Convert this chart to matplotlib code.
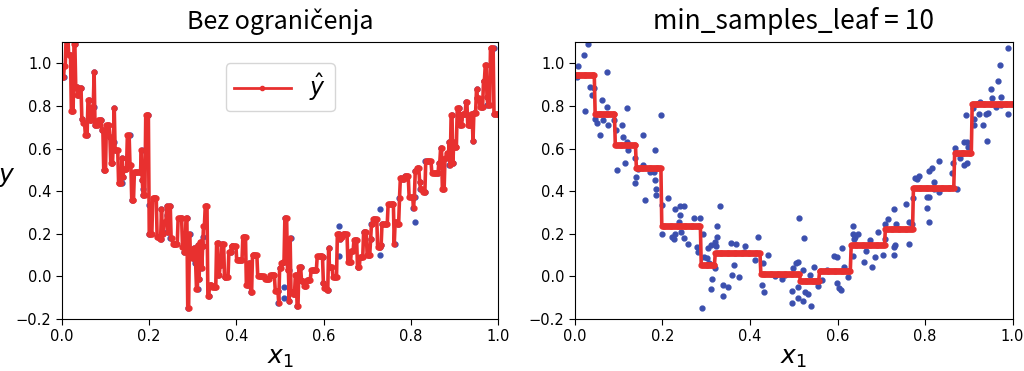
import numpy as np
import matplotlib
matplotlib.use("Agg")
import matplotlib.pyplot as plt

plt.rcParams["font.family"] = ["DejaVu Sans"]
plt.rcParams["mathtext.fontset"] = "dejavusans"

# training samples
x_pts = [0.005, 0.006, 0.011, 0.020, 0.024, 0.030, 0.034, 0.038, 0.044, 0.046, 0.050, 0.058,
         0.062, 0.064, 0.073, 0.074, 0.076, 0.090, 0.093, 0.097, 0.107, 0.110, 0.114, 0.119,
         0.120, 0.122, 0.137, 0.138, 0.140, 0.144, 0.156, 0.156, 0.161, 0.171, 0.181, 0.183,
         0.184, 0.186, 0.186, 0.197, 0.200, 0.200, 0.213, 0.221, 0.227, 0.228, 0.229, 0.238,
         0.241, 0.241, 0.242, 0.249, 0.249, 0.258, 0.272, 0.279, 0.281, 0.286, 0.290, 0.293,
         0.295, 0.301, 0.304, 0.306, 0.311, 0.312, 0.314, 0.319, 0.319, 0.323, 0.324, 0.325,
         0.331, 0.338, 0.339, 0.350, 0.357, 0.359, 0.364, 0.367, 0.375, 0.387, 0.389, 0.411,
         0.418, 0.427, 0.429, 0.433, 0.440, 0.456, 0.472, 0.481, 0.495, 0.495, 0.499, 0.504,
         0.510, 0.510, 0.510, 0.512, 0.520, 0.520, 0.524, 0.525, 0.532, 0.536, 0.539, 0.547,
         0.551, 0.556, 0.564, 0.575, 0.593, 0.598, 0.599, 0.603, 0.609, 0.611, 0.614, 0.625,
         0.635, 0.636, 0.636, 0.637, 0.639, 0.647, 0.661, 0.664, 0.674, 0.679, 0.686, 0.693,
         0.704, 0.709, 0.709, 0.715, 0.729, 0.730, 0.730, 0.731, 0.734, 0.757, 0.763, 0.764,
         0.771, 0.773, 0.776, 0.782, 0.786, 0.805, 0.805, 0.809, 0.809, 0.809, 0.817, 0.820,
         0.821, 0.831, 0.833, 0.862, 0.864, 0.869, 0.873, 0.879, 0.884, 0.888, 0.888, 0.894,
         0.896, 0.897, 0.899, 0.910, 0.911, 0.911, 0.923, 0.926, 0.933, 0.939, 0.942, 0.945,
         0.951, 0.952, 0.963, 0.967, 0.972, 0.974, 0.974, 0.989, 0.989]
y_pts = [0.935, 0.987, 1.120, 1.037, 0.775, 1.092, 0.888, 0.853, 0.885, 0.737, 0.722, 0.664,
         0.827, 0.734, 0.795, 0.957, 0.709, 0.736, 0.685, 0.497, 0.709, 0.656, 0.530, 0.631,
         0.792, 0.591, 0.436, 0.555, 0.467, 0.502, 0.662, 0.522, 0.358, 0.488, 0.488, 0.591,
         0.452, 0.408, 0.380, 0.756, 0.334, 0.201, 0.370, 0.184, 0.177, 0.317, 0.199, 0.256,
         0.331, 0.290, 0.207, 0.331, 0.180, 0.151, 0.273, 0.140, 0.113, 0.276, -0.147, 0.201,
         0.093, 0.088, 0.132, 0.064, -0.061, 0.147, -0.014, 0.163, 0.038, 0.143, 0.184, 0.235,
         0.329, -0.091, -0.041, -0.052, 0.158, 0.008, 0.053, 0.154, -0.003, 0.116, 0.144, 0.075,
         0.187, -0.039, 0.061, -0.072, 0.099, 0.000, -0.011, 0.005, -0.067, -0.125, 0.038, 0.061,
         0.066, -0.052, -0.102, 0.273, 0.031, -0.115, 0.179, -0.075, -0.082, 0.008, -0.138, 0.045,
         -0.020, -0.044, -0.019, 0.030, 0.096, 0.091, -0.031, -0.056, -0.063, 0.132, 0.044, -0.005,
         0.201, 0.235, 0.094, 0.176, 0.185, 0.199, 0.069, 0.119, 0.173, 0.042, 0.091, 0.207,
         0.102, 0.176, 0.248, 0.270, 0.140, 0.317, 0.102, 0.148, 0.245, 0.339, 0.152, 0.254,
         0.245, 0.367, 0.461, 0.458, 0.471, 0.373, 0.323, 0.373, 0.254, 0.494, 0.509, 0.445,
         0.408, 0.398, 0.540, 0.483, 0.533, 0.602, 0.409, 0.556, 0.580, 0.631, 0.521, 0.759,
         0.530, 0.631, 0.609, 0.791, 0.740, 0.709, 0.762, 0.819, 0.712, 0.762, 0.634, 0.769,
         0.878, 0.838, 0.797, 0.916, 0.991, 0.841, 0.803, 1.073, 0.762]

# regularized tree (min_samples_leaf=10): split thresholds and leaf values
split_x = [0.046, 0.091, 0.139, 0.198, 0.288, 0.320, 0.423, 0.515, 0.558, 0.630, 0.709, 0.773, 0.866, 0.906]
leaf_y = [0.947, 0.764, 0.615, 0.510, 0.237, 0.053, 0.108, 0.009, -0.020, 0.027, 0.147, 0.223, 0.417, 0.580, 0.811]

titles = ["Bez ograničenja", "min_samples_leaf = 10"]

xp = np.array(x_pts)
yp = np.array(y_pts)
order = np.argsort(xp, kind="stable")
xs, ys = xp[order], yp[order]
x_grid = np.linspace(0, 1, 500)
# unrestricted tree: each sample owns the interval up to midpoints with neighbours
mids = (xs[1:] + xs[:-1]) / 2
pred_free = ys[np.searchsorted(mids, x_grid)]
pred_reg = np.array(leaf_y)[np.searchsorted(np.array(split_x), x_grid)]

TITLE_FONT = ["Noto Sans CJK JP", "DejaVu Sans"]
RED = "#e8302f"
BLUE = "#3b4fae"

fig = plt.figure(figsize=(10.24, 3.71), dpi=100)
ax1 = fig.add_axes([0.0603, 0.1402, 0.4264, 0.7466])
ax2 = fig.add_axes([0.5615, 0.1402, 0.4273, 0.7466])

for ax, pred, title, tsize in [(ax1, pred_free, titles[0], 18), (ax2, pred_reg, titles[1], 19)]:
    ax.plot(xs, ys, ".", color=BLUE, markersize=7)
    ax.plot(x_grid, pred, ".-", color=RED, linewidth=2.6, markersize=7, label=r"$\hat{y}$")
    ax.set_xlim(0, 1)
    ax.set_ylim(-0.2, 1.1)
    ax.set_xticks([0.0, 0.2, 0.4, 0.6, 0.8, 1.0])
    ax.set_yticks([-0.2, 0.0, 0.2, 0.4, 0.6, 0.8, 1.0])
    ax.tick_params(labelsize=10.5, length=4)
    ax.set_xlabel("$x_1$", fontsize=18, labelpad=1)
    ax.set_title(title, fontsize=tsize, family=TITLE_FONT, pad=9)

ax1.set_ylabel("$y$", fontsize=18, rotation=0, labelpad=2)
ax1.yaxis.set_label_coords(-0.125, 0.47)
leg = ax1.legend(loc="upper center", fontsize=17, handlelength=2.4, borderpad=0.35,
                 borderaxespad=0.9)
for h in leg.legend_handles:
    h.set_linewidth(2)
    h.set_markersize(6)

fig.savefig("out.png", dpi=100)
